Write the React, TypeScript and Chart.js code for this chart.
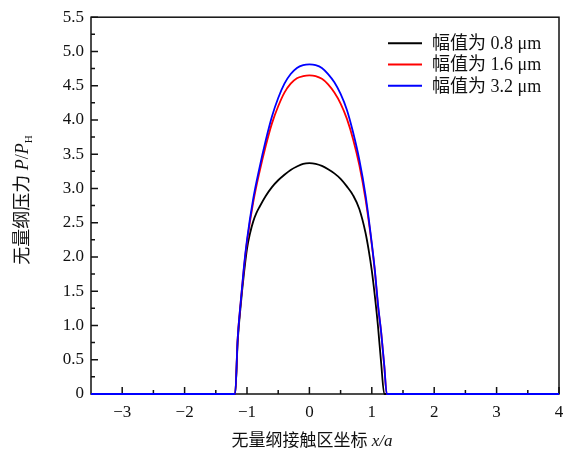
import { useEffect, useRef } from "react";
import { Chart, registerables } from "chart.js";

Chart.register(...registerables);

// ---- data ----
const xBlack = [-3.5, -1.19, -1.15, -1.1, -1.05, -1.0, -0.95, -0.9, -0.85, -0.8, -0.7, -0.6, -0.5, -0.4, -0.3, -0.2, -0.1, 0, 0.1, 0.2, 0.3, 0.4, 0.5, 0.6, 0.7, 0.8, 0.9, 0.95, 1.0, 1.05, 1.1, 1.15, 1.2, 4];
const yBlack = [0, 0, 0.75, 1.3, 1.75, 2.12, 2.35, 2.52, 2.64, 2.73, 2.89, 3.02, 3.12, 3.2, 3.27, 3.32, 3.36, 3.37, 3.36, 3.33, 3.28, 3.22, 3.14, 3.03, 2.9, 2.7, 2.35, 2.1, 1.8, 1.42, 0.98, 0.45, 0, 0];

const xRed = [-3.5, -1.19, -1.15, -1.1, -1.05, -1.0, -0.9, -0.8, -0.7, -0.6, -0.5, -0.4, -0.3, -0.2, -0.1, 0, 0.1, 0.2, 0.3, 0.4, 0.5, 0.6, 0.7, 0.8, 0.9, 1.0, 1.05, 1.1, 1.15, 1.2, 1.24, 4];
const yRed = [0, 0, 0.8, 1.35, 1.83, 2.22, 2.8, 3.24, 3.62, 3.95, 4.2, 4.4, 4.53, 4.61, 4.64, 4.65, 4.64, 4.6, 4.52, 4.4, 4.24, 4.02, 3.72, 3.34, 2.84, 2.18, 1.78, 1.28, 0.9, 0.4, 0, 0];

const xBlue = [-3.5, -1.19, -1.15, -1.1, -1.05, -1.0, -0.9, -0.8, -0.7, -0.6, -0.5, -0.4, -0.3, -0.2, -0.1, 0, 0.1, 0.2, 0.3, 0.4, 0.5, 0.6, 0.7, 0.8, 0.9, 1.0, 1.05, 1.1, 1.15, 1.2, 1.24, 4];
const yBlue = [0, 0, 0.8, 1.35, 1.85, 2.25, 2.85, 3.3, 3.7, 4.05, 4.32, 4.53, 4.67, 4.76, 4.8, 4.81, 4.8, 4.76, 4.67, 4.55, 4.38, 4.15, 3.82, 3.42, 2.9, 2.2, 1.8, 1.3, 0.9, 0.42, 0, 0];

const seriesLabels = ["幅值为 0.8 μm", "幅值为 1.6 μm", "幅值为 3.2 μm"];
const seriesColors = ["#000000", "#ff0000", "#0000ff"];

const xTicks = [-3, -2, -1, 0, 1, 2, 3, 4];
const xMinorTicks = [-2.5, -1.5, -0.5, 0.5, 1.5, 2.5, 3.5];
const yTicks = [0, 0.5, 1, 1.5, 2, 2.5, 3, 3.5, 4, 4.5, 5, 5.5];
const yMinorTicks = [0.25, 0.75, 1.25, 1.75, 2.25, 2.75, 3.25, 3.75, 4.25, 4.75, 5.25];

const xTitleMain = "无量纲接触区坐标 ";
const xTitleVar = "x/a";
const yTitleMain = "无量纲压力 ";

const SERIF = '"Liberation Serif", "Times New Roman", "Noto Sans CJK SC", serif';

function toPoints(xs: number[], ys: number[]) {
  return xs.map((x, i) => ({ x, y: ys[i] }));
}

const decorPlugin = {
  id: "decor",
  beforeDatasetsDraw(chart: any) {
    const { ctx, chartArea } = chart;
    const xs = chart.scales.x;
    const ys = chart.scales.y;
    ctx.save();
    ctx.strokeStyle = "#111";
    ctx.lineWidth = 1.5;
    ctx.strokeRect(chartArea.left, chartArea.top, chartArea.right - chartArea.left, chartArea.bottom - chartArea.top);
    ctx.beginPath();
    for (const v of xTicks) {
      const p = xs.getPixelForValue(v);
      ctx.moveTo(p, chartArea.bottom);
      ctx.lineTo(p, chartArea.bottom - 7);
    }
    for (const v of xMinorTicks) {
      const p = xs.getPixelForValue(v);
      ctx.moveTo(p, chartArea.bottom);
      ctx.lineTo(p, chartArea.bottom - 4);
    }
    for (const v of yTicks) {
      const p = ys.getPixelForValue(v);
      ctx.moveTo(chartArea.left, p);
      ctx.lineTo(chartArea.left + 7, p);
    }
    for (const v of yMinorTicks) {
      const p = ys.getPixelForValue(v);
      ctx.moveTo(chartArea.left, p);
      ctx.lineTo(chartArea.left + 4, p);
    }
    ctx.stroke();
    ctx.restore();
  },
  afterDraw(chart: any) {
    const { ctx, chartArea } = chart;
    ctx.save();
    ctx.fillStyle = "#111";
    ctx.textBaseline = "alphabetic";

    // x title
    const fN = `17px ${SERIF}`;
    const fI = `italic 17px ${SERIF}`;
    ctx.font = fN;
    const w1 = ctx.measureText(xTitleMain).width;
    ctx.font = fI;
    const w2 = ctx.measureText(xTitleVar).width;
    const cx = 312;
    const x0 = cx - (w1 + w2) / 2;
    const yBase = 446;
    ctx.font = fN;
    ctx.fillText(xTitleMain, x0, yBase);
    ctx.font = fI;
    ctx.fillText(xTitleVar, x0 + w1, yBase);

    // y title (rotated)
    const yN = `18px ${SERIF}`;
    const yI = `italic 18px ${SERIF}`;
    const segs: [string, string, number][] = [
      [yTitleMain, yN, 0],
      ["P", yI, 0],
      ["/", yN, 0],
      ["P", yI, 0],
      ["H", `11px ${SERIF}`, 4],
    ];
    let total = 0;
    for (const s of segs) {
      ctx.font = s[1];
      total += ctx.measureText(s[0]).width;
    }
    ctx.translate(28, 200);
    ctx.rotate(-Math.PI / 2);
    let px = -total / 2;
    for (const s of segs) {
      ctx.font = s[1];
      ctx.fillText(s[0], px, s[2]);
      px += ctx.measureText(s[0]).width;
    }
    ctx.restore();

    // legend
    ctx.save();
    ctx.font = `18px ${SERIF}`;
    ctx.textBaseline = "middle";
    for (let i = 0; i < seriesLabels.length; i++) {
      const ry = chartArea.top + 26 + i * 21.3;
      const lx = chartArea.right - 171;
      ctx.strokeStyle = seriesColors[i];
      ctx.lineWidth = 2;
      ctx.beginPath();
      ctx.moveTo(lx, ry);
      ctx.lineTo(lx + 34, ry);
      ctx.stroke();
      ctx.fillStyle = "#111";
      ctx.fillText(seriesLabels[i], lx + 44, ry + 1);
    }
    ctx.restore();
  },
};

export default function App() {
  const ref = useRef<HTMLCanvasElement | null>(null);
  useEffect(() => {
    if (!ref.current) return;
    const orders = [3, 2, 1];
    const pts = [toPoints(xBlack, yBlack), toPoints(xRed, yRed), toPoints(xBlue, yBlue)];
    const chart = new Chart(ref.current, {
      type: "line",
      data: {
        datasets: pts.map((d, i) => ({
          label: seriesLabels[i],
          data: d,
          borderColor: seriesColors[i],
          borderWidth: 1.8,
          pointRadius: 0,
          cubicInterpolationMode: "monotone" as const,
          fill: false,
          clip: false as any,
          order: orders[i],
        })),
      },
      options: {
        animation: false,
        responsive: false,
        maintainAspectRatio: false,
        layout: { padding: { left: 0, top: 15, right: 7, bottom: 0 } },
        plugins: { legend: { display: false }, tooltip: { enabled: false } },
        scales: {
          x: {
            type: "linear",
            min: -3.5,
            max: 4,
            grid: { display: false, drawTicks: false },
            border: { display: false },
            afterBuildTicks: (s: any) => {
              s.ticks = xTicks.map((v) => ({ value: v }));
            },
            afterFit: (s: any) => {
              s.height = 56;
              s.paddingLeft = 0;
              s.paddingRight = 0;
            },
            ticks: {
              padding: 8,
              color: "#111",
              font: { family: SERIF, size: 17 },
              maxRotation: 0,
              autoSkip: false,
              callback: (v: any) => (Number(v) < 0 ? "\u2212" + Math.abs(Number(v)) : String(v)),
            },
          },
          y: {
            type: "linear",
            min: 0,
            max: 5.5,
            grid: { display: false, drawTicks: false },
            border: { display: false },
            afterBuildTicks: (s: any) => {
              s.ticks = yTicks.map((v) => ({ value: v }));
            },
            afterFit: (s: any) => {
              s.width = 91;
            },
            ticks: {
              padding: 7,
              color: "#111",
              font: { family: SERIF, size: 17 },
              autoSkip: false,
              callback: (v: any) => (Number(v) === 0 ? "0" : Number(v).toFixed(1)),
            },
          },
        },
      },
      plugins: [decorPlugin],
    });
    return () => chart.destroy();
  }, []);
  return (
    <div style={{ position: "absolute", left: 0, top: 0, width: 566, height: 450, background: "#fff" }}>
      <canvas ref={ref} width={566} height={450} style={{ display: "block" }} />
    </div>
  );
}
